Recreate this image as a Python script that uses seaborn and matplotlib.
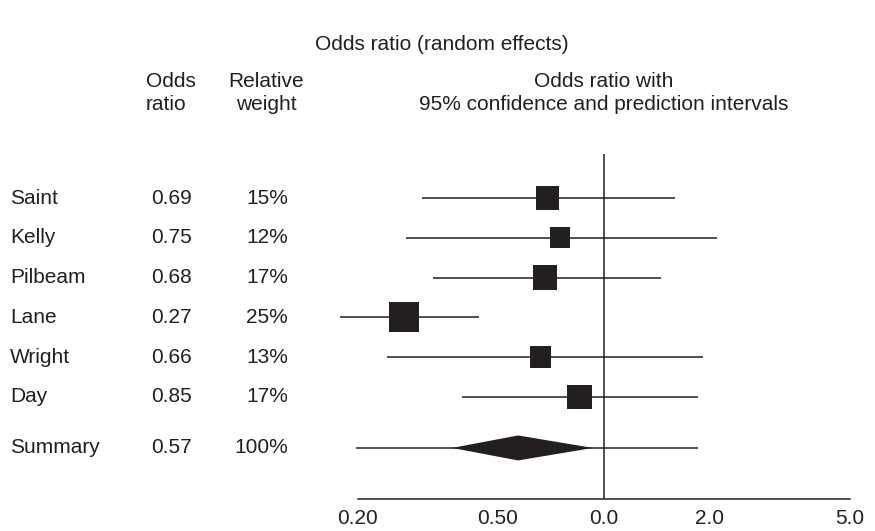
import numpy as np
import pandas as pd
import seaborn as sns
import matplotlib.pyplot as plt
from matplotlib.transforms import blended_transform_factory


sns.set_style('white')
plt.rcParams['font.family'] = ['Liberation Sans', 'DejaVu Sans']

# Data
studies = ['Saint', 'Kelly', 'Pilbeam', 'Lane', 'Wright', 'Day']
odds_ratio = [0.69, 0.75, 0.68, 0.27, 0.66, 0.85]
weight = [15, 12, 17, 25, 13, 17]
ci_low = [0.304, 0.274, 0.327, 0.178, 0.242, 0.395]
ci_high = [1.59, 2.09, 1.45, 0.441, 1.91, 1.85]

summary_or = 0.57
summary_weight = 100
summary_ci = [0.37, 0.93]
summary_pi = [0.197, 1.85]

tick_values = [0.2, 0.5, 1.0, 2.0, 5.0]
tick_labels = ['0.20', '0.50', '0.0', '2.0', '5.0']

W, H = 875, 531
INK = '#231f20'
FS = 15


def fx(px):
    return px / W


def fy(py):
    return 1 - py / H


def main():
    df = pd.DataFrame({'study': studies, 'or': odds_ratio, 'weight': weight,
                       'lo': ci_low, 'hi': ci_high})
    df['row'] = np.arange(len(df))
    summary_row = 6.28

    fig = plt.figure(figsize=(W / 100, H / 100), dpi=100)
    ax = fig.add_axes([0, 0, 1, 1])
    ax.set_xscale('log')
    # 1.0 sits at x=604 px, 352 px per decade; rows 39.8 px apart from y=198
    ax.set_xlim(10 ** (-604 / 352), 10 ** ((W - 604) / 352))
    ax.set_ylim((H - 198) / 39.8, -198 / 39.8)
    axis_y = (499 - 198) / 39.8

    # confidence intervals and prediction interval
    ax.hlines(df['row'], df['lo'], df['hi'], color=INK, lw=1.1)
    ax.hlines(summary_row, summary_pi[0], summary_pi[1], color=INK, lw=1.1)
    ax.vlines(1.0, (154 - 198) / 39.8, axis_y, color=INK, lw=1.1)

    sns.scatterplot(data=df, x='or', y='row', size='weight',
                    sizes=(18.66 * 12, 18.66 * 25), size_norm=(12, 25),
                    marker='s', color=INK, linewidth=0, legend=False, ax=ax,
                    zorder=3)

    h = 12.5 / 39.8
    ax.fill([summary_ci[0], summary_or, summary_ci[1], summary_or],
            [summary_row, summary_row - h, summary_row, summary_row + h],
            color=INK, lw=0, zorder=3)

    # bottom axis
    for side in ['top', 'left', 'right']:
        ax.spines[side].set_visible(False)
    ax.spines['bottom'].set_position(('data', axis_y))
    ax.spines['bottom'].set_bounds(0.2, 5.0)
    ax.spines['bottom'].set_color(INK)
    ax.spines['bottom'].set_linewidth(1.1)
    ax.set_xticks(tick_values)
    ax.set_xticklabels(tick_labels, fontsize=FS, color=INK)
    ax.xaxis.set_minor_locator(plt.NullLocator())
    ax.tick_params(axis='x', length=0, pad=7)
    ax.set_yticks([])
    ax.set_xlabel('')
    ax.set_ylabel('')

    # table columns
    tr = blended_transform_factory(fig.transFigure, ax.transData)
    names = studies + ['Summary']
    ors = odds_ratio + [summary_or]
    wts = weight + [summary_weight]
    rows = list(df['row']) + [summary_row]
    for name, o, w, r in zip(names, ors, wts, rows):
        ax.text(fx(10), r, name, transform=tr, ha='left', va='center',
                fontsize=FS, color=INK)
        ax.text(fx(171), r, f'{o:.2f}', transform=tr, ha='center',
                va='center', fontsize=FS, color=INK)
        ax.text(fx(288), r, f'{w}%', transform=tr, ha='right', va='center',
                fontsize=FS, color=INK)

    fig.text(fx(442), fy(45), 'Odds ratio (random effects)', ha='center',
             va='center', fontsize=FS, color=INK)
    fig.text(fx(146), fy(93), 'Odds\nratio', ha='left', va='center',
             fontsize=FS, color=INK, linespacing=1.28)
    fig.text(fx(266), fy(93), 'Relative\nweight', ha='center', va='center',
             fontsize=FS, color=INK, linespacing=1.28, multialignment='center')
    fig.text(fx(604), fy(93), 'Odds ratio with\n95% confidence and prediction intervals',
             ha='center', va='center', fontsize=FS, color=INK,
             linespacing=1.28, multialignment='center')

    fig.savefig('out.png', dpi=100)


if __name__ == '__main__':
    main()
